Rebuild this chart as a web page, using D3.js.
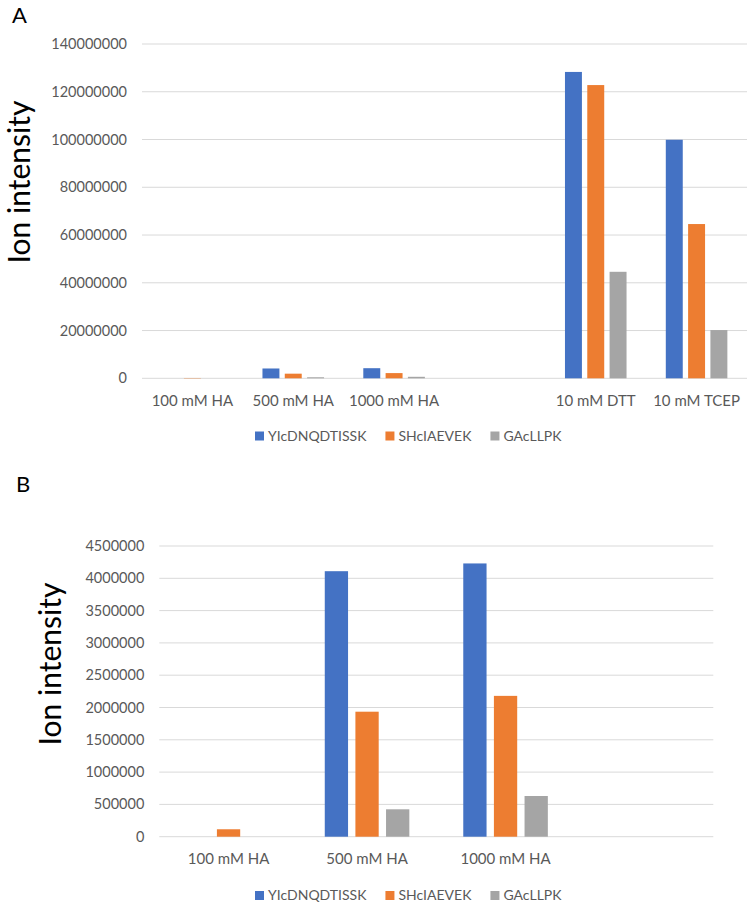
<!DOCTYPE html>
<html>
<head>
<meta charset="utf-8">
<script src="https://cdn.jsdelivr.net/npm/d3@7"></script>
<style>
  body { margin: 0; background: #fff; }
  text { font-family: Lato, "Open Sans", sans-serif; }
</style>
</head>
<body>
<svg id="fig" width="750" height="905"></svg>
<script>
// series names + colours (shared by both panels)
const seriesNames = ["YIcDNQDTISSK", "SHcIAEVEK", "GAcLLPK"];
const seriesColors = ["#4472C4", "#ED7D31", "#A5A5A5"];

// panel A
const catsA = ["100 mM HA", "500 mM HA", "1000 mM HA", "", "10 mM DTT", "10 mM TCEP"];
const yiA = [0, 4110000, 4230000, null, 128300000, 99900000];
const shA = [130000, 1935000, 2180000, null, 122800000, 64600000];
const gaA = [0, 424000, 630000, null, 44600000, 20200000];
const ticksA = [0, 20000000, 40000000, 60000000, 80000000, 100000000, 120000000, 140000000];

// panel B
const catsB = ["100 mM HA", "500 mM HA", "1000 mM HA", ""];
const yiB = [0, 4110000, 4230000, null];
const shB = [115000, 1935000, 2180000, null];
const gaB = [0, 424000, 630000, null];
const ticksB = [0, 500000, 1000000, 1500000, 2000000, 2500000, 3000000, 3500000, 4000000, 4500000];

const svg = d3.select('#fig');
svg.append('rect').attr('width', 750).attr('height', 905).attr('fill', '#fff');

function drawPanel(opt) {
    const g = svg.append('g');
    const x0 = d3.scaleBand().domain(opt.cats.map((c, i) => i)).range([opt.left, opt.right]).padding(0);
    const x1 = d3.scaleBand().domain(seriesNames).range([0, x0.bandwidth()])
        .paddingInner(0.24).paddingOuter(0.88);
    const y = d3.scaleLinear().domain([0, d3.max(opt.ticks)]).range([opt.bottom, opt.top]);

    // gridlines
    g.selectAll('.grid').data(opt.ticks).join('line')
        .attr('x1', opt.left).attr('x2', opt.right)
        .attr('y1', d => y(d)).attr('y2', d => y(d))
        .attr('stroke', '#d9d9d9').attr('stroke-width', 1);

    // y tick labels
    g.selectAll('.ytick').data(opt.ticks).join('text')
        .attr('x', opt.left - 15).attr('y', d => y(d)).attr('dy', '0.35em')
        .attr('text-anchor', 'end').attr('fill', '#595959').attr('font-size', 14.5)
        .text(d => d3.format('d')(d));

    // bars
    const vals = opt.series;
    opt.cats.forEach((c, i) => {
        seriesNames.forEach((s, k) => {
            const v = vals[k][i];
            if (v == null || v <= 0) return;
            g.append('rect')
                .attr('x', x0(i) + x1(s))
                .attr('width', x1.bandwidth())
                .attr('y', y(v))
                .attr('height', y(0) - y(v))
                .attr('fill', seriesColors[k]);
        });
    });

    // category labels
    g.selectAll('.xlab').data(opt.cats).join('text')
        .attr('x', (d, i) => x0(i) + x0.bandwidth() / 2)
        .attr('y', opt.bottom + 22).attr('dy', '0.35em')
        .attr('text-anchor', 'middle').attr('fill', '#595959').attr('font-size', 15)
        .text(d => d);

    // axis title
    g.append('text')
        .attr('transform', `translate(${opt.titleX},${opt.titleY}) rotate(-90)`)
        .attr('text-anchor', 'middle').attr('fill', '#000').attr('font-size', 30)
        .text('Ion intensity');

    // panel letter
    g.append('text').attr('x', opt.letterX).attr('y', opt.letterY)
        .attr('font-size', 22).attr('fill', '#000').text(opt.letter);

    // legend
    let lx = 255;
    seriesNames.forEach((s, k) => {
        g.append('rect').attr('x', lx).attr('y', opt.legendY - 4.5)
            .attr('width', 9).attr('height', 9).attr('fill', seriesColors[k]);
        const t = g.append('text').attr('x', lx + 13).attr('y', opt.legendY).attr('dy', '0.35em')
            .attr('fill', '#595959').attr('font-size', 14).text(s);
        lx += 13 + t.node().getComputedTextLength() + 19;
    });
}

drawPanel({
    cats: catsA, series: [yiA, shA, gaA], ticks: ticksA,
    left: 142, right: 747, top: 44, bottom: 378.3,
    titleX: 30, titleY: 182, letter: 'A', letterX: 12, letterY: 23, legendY: 436
});

drawPanel({
    cats: catsB, series: [yiB, shB, gaB], ticks: ticksB,
    left: 159.3, right: 713.3, top: 546, bottom: 836.7,
    titleX: 61, titleY: 664, letter: 'B', letterX: 16, letterY: 492, legendY: 895.5
});
</script>
</body>
</html>
